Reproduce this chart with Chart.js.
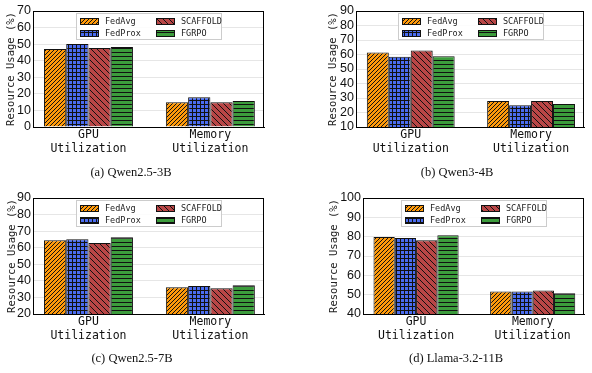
<!DOCTYPE html>
<html>
<head>
  <title>Resource Usage</title>
  <meta charset="utf-8" />
  <script src="https://cdn.jsdelivr.net/npm/chart.js@4/dist/chart.umd.min.js"></script>
  <style>
    html, body {
      margin: 0;
      padding: 0;
      background: #ffffff;
    }
    body {
      position: relative;
      width: 592px;
      height: 373px;
      overflow: hidden;
    }
    .panel {
      position: absolute;
      width: 296px;
      height: 186px;
    }
    .panel canvas {
      position: absolute;
      left: 0;
      top: 0;
    }
    .cap {
      position: absolute;
      top: 165px;
      font: 12.5px "Liberation Serif", "Times New Roman", serif;
      color: #111;
      white-space: nowrap;
      transform: translateX(-50%);
    }
  </style>
</head>
<body>
  <script>
    // data
    var methods = ['FedAvg', 'FedProx', 'SCAFFOLD', 'FGRPO'];
    var categories = [['GPU', 'Utilization'], ['Memory', 'Utilization']];
    var captions = ['(a) Qwen2.5-3B', '(b) Qwen3-4B', '(c) Qwen2.5-7B', '(d) Llama-3.2-11B'];
    var yMin = [0, 10, 20, 40];
    var yMax = [70, 90, 90, 100];

    // [GPU, Memory] per method, in the order of `methods`
    var qwen25_3b = [[47.1, 14.9], [50.1, 17.9], [47.7, 14.9], [48.3, 15.7]];
    var qwen3_4b = [[61.4, 28.0], [58.4, 25.0], [62.8, 28.0], [58.8, 25.9]];
    var qwen25_7b = [[64.5, 36.1], [65.1, 36.9], [62.9, 35.5], [66.3, 37.3]];
    var llama32_11b = [[79.8, 51.6], [79.3, 51.6], [78.1, 52.2], [80.7, 50.7]];
    var panelData = [qwen25_3b, qwen3_4b, qwen25_7b, llama32_11b];

    // layout of each panel (px inside the panel)
    var panels = [
      { left: 0,   top: 0,   plotLeft: 33, plotRight: 264, plotTop: 11, plotBottom: 127, titleX: 11, capX: 131 },
      { left: 296, top: 0,   plotLeft: 60, plotRight: 288, plotTop: 11, plotBottom: 127, titleX: 37, capX: 161 },
      { left: 0,   top: 186, plotLeft: 33, plotRight: 264, plotTop: 12, plotBottom: 128, titleX: 12, capX: 132 },
      { left: 296, top: 186, plotLeft: 67, plotRight: 288, plotTop: 12, plotBottom: 128, titleX: 38, capX: 160 }
    ];

    var colors = ['#ff9a0a', '#4a6cf0', '#b94646', '#3c9c3c'];

    function makePattern(kind, color) {
      var size = kind === 'back' ? 6 : 4;
      var c = document.createElement('canvas');
      c.width = size;
      c.height = size;
      var g = c.getContext('2d');
      g.fillStyle = color;
      g.fillRect(0, 0, size, size);
      g.strokeStyle = '#111';
      g.lineWidth = 1;
      g.beginPath();
      if (kind === 'fwd') {
        g.moveTo(-1, size + 1); g.lineTo(size + 1, -1);
        g.moveTo(-1, 1); g.lineTo(1, -1);
        g.moveTo(size - 1, size + 1); g.lineTo(size + 1, size - 1);
      } else if (kind === 'back') {
        g.moveTo(-1, -1); g.lineTo(size + 1, size + 1);
        g.moveTo(size - 1, -1); g.lineTo(size + 1, 1);
        g.moveTo(-1, size - 1); g.lineTo(1, size + 1);
      } else if (kind === 'grid') {
        g.moveTo(0.5, 0); g.lineTo(0.5, size);
        g.moveTo(0, 0.5); g.lineTo(size, 0.5);
      } else {
        g.moveTo(0, 0.5); g.lineTo(size, 0.5);
      }
      g.stroke();
      return g.createPattern(c, 'repeat');
    }

    var patterns = [
      makePattern('fwd', colors[0]),
      makePattern('grid', colors[1]),
      makePattern('back', colors[2]),
      makePattern('horiz', colors[3])
    ];

    // black frame round the plot area
    var framePlugin = {
      id: 'frame',
      afterDatasetsDraw: function(chart) {
        var a = chart.chartArea;
        var ctx = chart.ctx;
        ctx.save();
        ctx.strokeStyle = '#000';
        ctx.lineWidth = 1;
        ctx.strokeRect(Math.round(a.left) + 0.5, Math.round(a.top) + 0.5,
          Math.round(a.right - a.left) - 1, Math.round(a.bottom - a.top));
        ctx.restore();
      }
    };

    // 2x2 legend inside the plot, column-major like matplotlib
    var boxLegend = {
      id: 'boxLegend',
      afterDraw: function(chart) {
        var a = chart.chartArea;
        var ctx = chart.ctx;
        var w = 145, h = 26;
        var x0 = Math.round((a.left + a.right) / 2 - w / 2) + 0.5;
        var y0 = Math.round(a.top + 2) + 0.5;
        ctx.save();
        ctx.fillStyle = 'rgba(255,255,255,0.85)';
        ctx.strokeStyle = '#cccccc';
        ctx.lineWidth = 1;
        ctx.fillRect(x0, y0, w, h);
        ctx.strokeRect(x0, y0, w, h);
        ctx.font = '8.5px "DejaVu Sans Mono", monospace';
        ctx.textBaseline = 'middle';
        chart.data.datasets.forEach(function(ds, i) {
          var col = Math.floor(i / 2), row = i % 2;
          var sx = Math.round(x0 + 3 + col * 76);
          var cy = Math.round(y0 + 7 + row * 12);
          ctx.fillStyle = ds.backgroundColor;
          ctx.fillRect(sx, cy - 3, 19, 7);
          ctx.strokeStyle = '#111';
          ctx.strokeRect(sx + 0.5, cy - 3 + 0.5, 18, 6);
          ctx.fillStyle = '#222';
          ctx.fillText(ds.label, sx + 25, cy + 0.5);
        });
        ctx.restore();
      }
    };

    panels.forEach(function(p, k) {
      var div = document.createElement('div');
      div.className = 'panel';
      div.style.left = p.left + 'px';
      div.style.top = p.top + 'px';
      var canvas = document.createElement('canvas');
      canvas.width = 296;
      canvas.height = 186;
      div.appendChild(canvas);
      var cap = document.createElement('div');
      cap.className = 'cap';
      cap.style.left = p.capX + 'px';
      cap.textContent = captions[k];
      div.appendChild(cap);
      document.body.appendChild(div);

      var vals = panelData[k];
      var padLeft = p.titleX - 6.3;

      new Chart(canvas.getContext('2d'), {
        type: 'bar',
        data: {
          datasets: methods.map(function(m, i) {
            return {
              label: m,
              data: categories.map(function(c, j) { return { x: j, y: vals[i][j] }; }),
              backgroundColor: patterns[i],
              borderColor: '#111',
              borderWidth: 1,
              categoryPercentage: 0.73,
              barPercentage: 1.0
            };
          })
        },
        options: {
          responsive: false,
          animation: false,
          layout: {
            padding: { left: padLeft, right: 296 - p.plotRight, top: p.plotTop, bottom: 0 }
          },
          plugins: {
            legend: { display: false },
            tooltip: { enabled: false }
          },
          scales: {
            x: {
              type: 'linear',
              offset: false,
              min: -0.455,
              max: 1.44,
              afterBuildTicks: function(s) { s.ticks = [{ value: 0 }, { value: 1 }]; },
              afterFit: function(s) { s.height = 186 - p.plotBottom; },
              grid: { display: false, drawTicks: false, offset: false },
              border: { display: true, color: '#000', width: 1 },
              ticks: {
                padding: 1,
                color: '#111',
                maxRotation: 0,
                autoSkip: false,
                font: { family: '"DejaVu Sans Mono", monospace', size: 11.5, lineHeight: 1.2 },
                callback: function(v) { return categories[v]; }
              }
            },
            y: {
              min: yMin[k],
              max: yMax[k],
              afterFit: function(s) { s.width = p.plotLeft - padLeft; },
              grid: { color: '#e6e6e6', lineWidth: 1, drawTicks: false },
              border: { display: true, color: '#000', width: 1 },
              ticks: {
                stepSize: 10,
                autoSkip: false,
                padding: 2,
                color: '#111',
                font: { family: '"Liberation Sans", Arial, sans-serif', size: 12.5 }
              },
              title: {
                display: true,
                text: 'Resource Usage (%)',
                color: '#222',
                padding: { top: 0, bottom: 0 },
                font: { family: '"DejaVu Sans Mono", monospace', size: 10.5, lineHeight: 1.2 }
              }
            }
          }
        },
        plugins: [framePlugin, boxLegend]
      });
    });
  </script>
</body>
</html>
